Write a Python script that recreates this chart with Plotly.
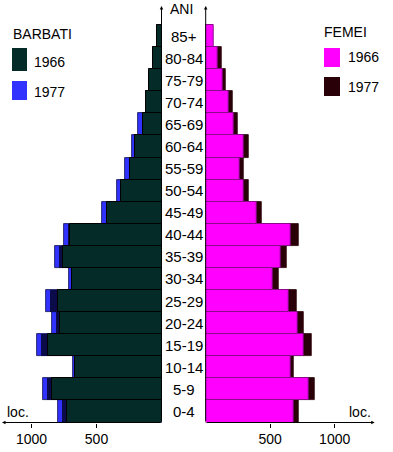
import numpy as np
import plotly.graph_objects as go

W, H = 393, 452

ages = ["0-4", "5-9", "10-14", "15-19", "20-24", "25-29", "30-34", "35-39",
        "40-44", "45-49", "50-54", "55-59", "60-64", "65-69", "70-74",
        "75-79", "80-84", "85+"]
men_1966 = [729, 840, 665, 875, 780, 798, 691, 755, 704, 417, 314, 242, 204, 145, 122, 94, 68, 37]
men_1977 = [798, 909, 683, 960, 840, 890, 709, 817, 748, 460, 340, 278, 225, 178, 118, 90, 65, 35]
women_1966 = [684, 801, 656, 760, 716, 646, 522, 581, 659, 392, 297, 263, 297, 217, 178, 129, 95, 62]
women_1977 = [723, 845, 684, 819, 762, 702, 563, 630, 718, 431, 333, 295, 336, 245, 206, 155, 121, 58]
ticks = [500, 1000]
tick_text = ["500", "1000"]

FONT = "Liberation Sans, Arial, sans-serif"
GREEN = "#042b27"
BLUE = "#3232ff"
NAVY = "#0b0b4a"
MAGENTA = "#ff00ff"
DARK = "#2a0008"


def px(x):
    return x / W


def py(y):
    return 1 - y / H


# geometry (pixels)
L0, LEND = 161.5, 2.0
R0, REND = 205.7, 374.7
YB, YT = 422.5, 6.0
ROW = (YB - 25.0) / len(ages)
yr_top = len(ages) - 0.5 + (25.0 - YT) / ROW
SCALE_L = 130.0 / 1000
SCALE_R = 129.0 / 1000

fig = go.Figure()
# men (left)
fig.add_trace(go.Bar(y=ages, x=men_1977, orientation="h", xaxis="x", yaxis="y",
                     marker=dict(color=BLUE, line=dict(color=NAVY, width=0.8)),
                     name="1977", showlegend=False))
fig.add_trace(go.Bar(y=ages, x=np.array(men_1977) - 30, orientation="h", xaxis="x", yaxis="y",
                     marker=dict(color=NAVY, line=dict(width=0)),
                     showlegend=False, hoverinfo="skip"))
fig.add_trace(go.Bar(y=ages, x=men_1966, orientation="h", xaxis="x", yaxis="y",
                     marker=dict(color=GREEN, line=dict(color="#000000", width=1)),
                     name="1966", showlegend=False))
# women (right)
fig.add_trace(go.Bar(y=ages, x=women_1977, orientation="h", xaxis="x2", yaxis="y",
                     marker=dict(color=DARK, line=dict(color=DARK, width=0.8)),
                     name="1977", showlegend=False))
fig.add_trace(go.Bar(y=ages, x=women_1966, orientation="h", xaxis="x2", yaxis="y",
                     marker=dict(color=MAGENTA, line=dict(color="#8a0a8a", width=1)),
                     name="1966", showlegend=False))

axis_common = dict(showgrid=False, zeroline=False, showline=False, ticks="outside",
                   ticklen=4, tickwidth=1, tickcolor="black", tickvals=ticks, ticktext=tick_text,
                   tickfont=dict(family=FONT, size=14, color="black"))
fig.update_layout(
    width=W, height=H, margin=dict(l=0, r=0, t=0, b=0),
    paper_bgcolor="white", plot_bgcolor="rgba(0,0,0,0)",
    barmode="overlay", bargap=0,
    xaxis=dict(domain=[px(LEND), px(L0)], range=[(L0 - LEND) / SCALE_L, 0], anchor="y", **axis_common),
    xaxis2=dict(domain=[px(R0), px(REND)], range=[0, (REND - R0) / SCALE_R], anchor="y", **axis_common),
    yaxis=dict(domain=[py(YB), py(YT)], range=[-0.5, yr_top], type="category",
               categoryorder="array", categoryarray=ages, showticklabels=False,
               showgrid=False, zeroline=False, showline=False, ticks=""),
    showlegend=False,
)

ann = []
# age labels
for a in ages:
    ann.append(dict(x=px(183.5), xref="paper", y=a, yref="y", text=a, showarrow=False,
                    font=dict(family=FONT, size=15, color="black"), xanchor="center", yanchor="middle"))
# axis arrows
arrow = dict(showarrow=True, arrowhead=2, arrowsize=0.7, arrowwidth=1, arrowcolor="black", text="",
             xref="paper", yref="paper", axref="pixel", ayref="pixel")
ann.append(dict(x=px(L0), y=py(YT), ax=0, ay=YB - YT, **arrow))
ann.append(dict(x=px(R0), y=py(YT), ax=0, ay=YB - YT, **arrow))
ann.append(dict(x=px(LEND), y=py(YB), ax=L0 - LEND, ay=0, **arrow))
ann.append(dict(x=px(REND), y=py(YB), ax=-(REND - R0), ay=0, **arrow))

txt = dict(showarrow=False, xref="paper", yref="paper", font=dict(family=FONT, size=14, color="black"))
ann.append(dict(x=px(181), y=py(9), text="ANI", xanchor="center", yanchor="middle", **txt))
ann.append(dict(x=px(5), y=py(412), text="loc.", xanchor="left", yanchor="middle", **txt))
ann.append(dict(x=px(373), y=py(412), text="loc.", xanchor="right", yanchor="middle", **txt))
ann.append(dict(x=px(11), y=py(34), text="BARBATI", xanchor="left", yanchor="middle", **txt))
ann.append(dict(x=px(32), y=py(62), text="1966", xanchor="left", yanchor="middle", **txt))
ann.append(dict(x=px(32), y=py(92), text="1977", xanchor="left", yanchor="middle", **txt))
ann.append(dict(x=px(322), y=py(32), text="FEMEI", xanchor="left", yanchor="middle", **txt))
ann.append(dict(x=px(346), y=py(57), text="1966", xanchor="left", yanchor="middle", **txt))
ann.append(dict(x=px(346), y=py(87), text="1977", xanchor="left", yanchor="middle", **txt))

shapes = []
def rect(x0, y0, x1, y1, color):
    shapes.append(dict(type="rect", xref="paper", yref="paper", x0=px(x0), x1=px(x1),
                       y0=py(y1), y1=py(y0), fillcolor=color, line=dict(width=0)))

rect(12, 48, 27, 71, GREEN)
rect(12, 81, 27, 100, BLUE)
rect(324, 48, 340, 67, MAGENTA)
rect(324, 77, 340, 96, DARK)

fig.update_layout(annotations=ann, shapes=shapes)
fig.write_html("out.html", config={"displayModeBar": False},
               post_script="document.body.style.margin='0px';document.body.style.overflow='hidden';")
